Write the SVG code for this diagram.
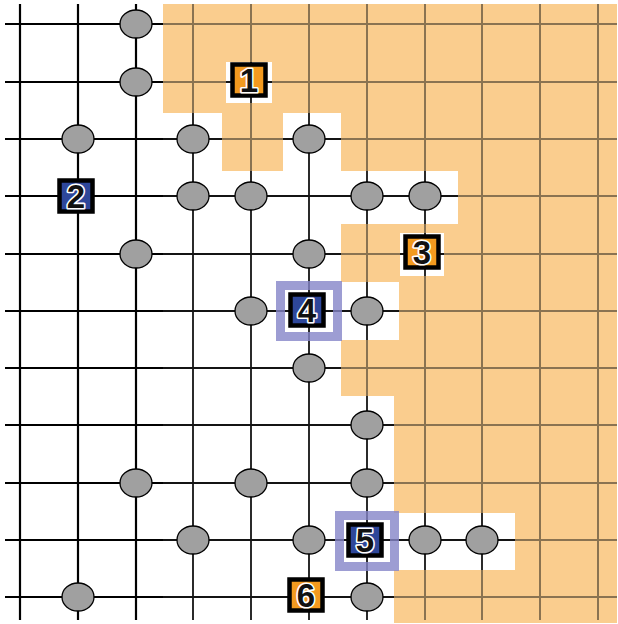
<svg xmlns="http://www.w3.org/2000/svg" xmlns:xlink="http://www.w3.org/1999/xlink" width="618" height="624" viewBox="0 0 618 624">
<style>
.stone{fill:#a0a0a0;stroke:#000;stroke-width:1.3}
.box{stroke:#000;stroke-width:4.5}
.or{fill:#f39a1f}
.bl{fill:#2e479a}
.hl{fill:none;stroke:#8585c8;stroke-opacity:0.8;stroke-width:9}
.num{font-family:"Liberation Sans",Arial,sans-serif;font-weight:bold;font-size:33px;fill:#111;stroke:#fff;stroke-width:3.2;paint-order:stroke;text-anchor:middle;stroke-linejoin:round}
</style>
<defs>
<g id="gridL">
<path d="M5,24H163M5,82H163M5,139H163M5,196H163M5,254H163M5,311H163M5,368H163M5,425H163M5,483H163M5,540H163M5,597H163M20,4V620M78,4V620M136,4V620"/>
</g>
<g id="gridR">
<path d="M163,24H617M163,82H617M163,139H617M163,196H617M163,254H617M163,311H617M163,368H617M163,425H617M163,483H617M163,540H617M163,597H617M193,4V620M251,4V620M309,4V620M367,4V620M425,4V620M482,4V620M540,4V620M598,4V620"/>
</g>
<clipPath id="orClip">
<path clip-rule="evenodd" d="M163,4H617V623H394V570H515V513H394V396H341V340H399V282H341V224H458V171H341V113H283V171H222V113H163Z M226,62H272V103H226Z M400,233H444V276H400Z"/>
</clipPath>
</defs>
<rect width="618" height="624" fill="#fff"/>
<g id="connectors" fill="none">
<use xlink:href="#gridL" stroke="#000" stroke-width="2.2"/>
<use xlink:href="#gridR" stroke="#141414" stroke-width="1.8"/>
<path id="territory" fill="#facd8e" fill-rule="evenodd" d="M163,4H617V623H394V570H515V513H394V396H341V340H399V282H341V224H458V171H341V113H283V171H222V113H163Z M226,62H272V103H226Z M400,233H444V276H400Z"/>
<use xlink:href="#gridR" stroke="#8a7351" stroke-width="2" clip-path="url(#orClip)"/>
</g>
<g id="stones">
<g id="s1"><ellipse class="stone" cx="136" cy="24" rx="16" ry="14"/></g>
<g id="s2"><ellipse class="stone" cx="136" cy="82" rx="16" ry="14"/></g>
<g id="s3"><ellipse class="stone" cx="78" cy="139" rx="16" ry="14"/></g>
<g id="s4"><ellipse class="stone" cx="193" cy="139" rx="16" ry="14"/></g>
<g id="s5"><ellipse class="stone" cx="309" cy="139" rx="16" ry="14"/></g>
<g id="s6"><ellipse class="stone" cx="193" cy="196" rx="16" ry="14"/></g>
<g id="s7"><ellipse class="stone" cx="251" cy="196" rx="16" ry="14"/></g>
<g id="s8"><ellipse class="stone" cx="367" cy="196" rx="16" ry="14"/></g>
<g id="s9"><ellipse class="stone" cx="425" cy="196" rx="16" ry="14"/></g>
<g id="s10"><ellipse class="stone" cx="136" cy="254" rx="16" ry="14"/></g>
<g id="s11"><ellipse class="stone" cx="309" cy="254" rx="16" ry="14"/></g>
<g id="s12"><ellipse class="stone" cx="251" cy="311" rx="16" ry="14"/></g>
<g id="s13"><ellipse class="stone" cx="367" cy="311" rx="16" ry="14"/></g>
<g id="s14"><ellipse class="stone" cx="309" cy="368" rx="16" ry="14"/></g>
<g id="s15"><ellipse class="stone" cx="367" cy="425" rx="16" ry="14"/></g>
<g id="s16"><ellipse class="stone" cx="136" cy="483" rx="16" ry="14"/></g>
<g id="s17"><ellipse class="stone" cx="251" cy="483" rx="16" ry="14"/></g>
<g id="s18"><ellipse class="stone" cx="367" cy="483" rx="16" ry="14"/></g>
<g id="s19"><ellipse class="stone" cx="193" cy="540" rx="16" ry="14"/></g>
<g id="s20"><ellipse class="stone" cx="309" cy="540" rx="16" ry="14"/></g>
<g id="s21"><ellipse class="stone" cx="425" cy="540" rx="16" ry="14"/></g>
<g id="s22"><ellipse class="stone" cx="482" cy="540" rx="16" ry="14"/></g>
<g id="s23"><ellipse class="stone" cx="78" cy="597" rx="16" ry="14"/></g>
<g id="s24"><ellipse class="stone" cx="367" cy="597" rx="16" ry="14"/></g>
</g>
<g id="label1"><rect class="box or" x="232.5" y="64.5" width="33" height="31"/><text class="num" x="249" y="92">1</text></g>
<g id="label2"><rect class="box bl" x="59.5" y="180.5" width="33" height="31"/><text class="num" x="76" y="208">2</text></g>
<g id="label3"><rect class="box or" x="405.5" y="236.5" width="33" height="31"/><text class="num" x="422" y="264">3</text></g>
<g id="label4"><rect class="hl" x="280.5" y="285.5" width="57" height="51"/><rect class="box bl" x="290.5" y="294.5" width="33" height="31"/><text class="num" x="307" y="322">4</text></g>
<g id="label5"><rect class="hl" x="339.5" y="515.5" width="55" height="51"/><rect class="box bl" x="348.5" y="524.5" width="33" height="31"/><text class="num" x="365" y="552">5</text></g>
<g id="label6"><rect class="box or" x="289.5" y="579.5" width="33" height="31"/><text class="num" x="306" y="607">6</text></g>
</svg>
